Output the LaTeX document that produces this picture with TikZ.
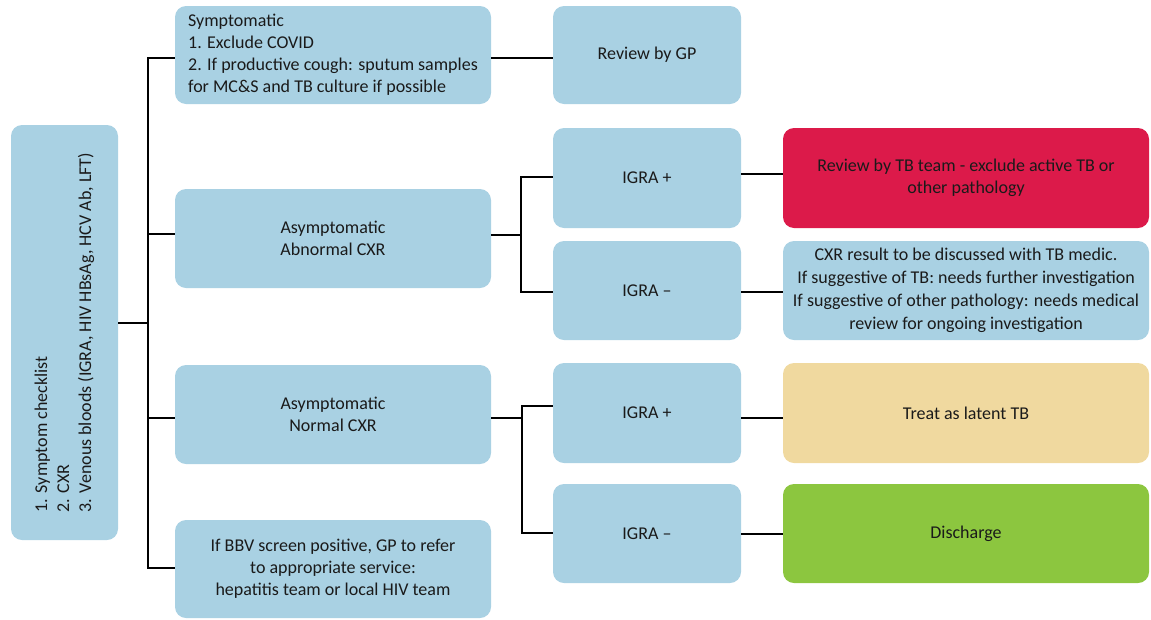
\documentclass[tikz,border=0pt]{standalone}
\usepackage{fontspec}
\setmainfont{Carlito}
\definecolor{boxblue}{HTML}{A9D1E3}
\definecolor{boxred}{HTML}{DC1A4A}
\definecolor{boxyel}{HTML}{F0D99F}
\definecolor{boxgrn}{HTML}{8CC63F}
\definecolor{txt}{HTML}{1A1A1A}
\begin{document}
\begin{tikzpicture}[x=1pt,y=-1pt,
  box/.style={rectangle, rounded corners=11pt, fill=boxblue, draw=none, text=txt,
    inner sep=2pt, align=center, font=\fontsize{18}{22}\selectfont},
  conn/.style={draw=black, line width=2.4pt}]
\useasboundingbox (0,0) rectangle (1151,619);
% left box
\node[box, rotate=90, minimum width=415pt, minimum height=107pt, align=left] (chk) at (64.5,332.5)
  {1. Symptom checklist\\2. CXR\\3. Venous bloods (IGRA, HIV HBsAg, HCV Ab, LFT)};
% second column
\node[box, minimum width=316pt, minimum height=98pt, align=left] (sym) at (333,55)
  {Symptomatic\\1. Exclude COVID\\2. If productive cough: sputum samples\\for MC\&S and TB culture if possible};
\node[box, minimum width=316pt, minimum height=99pt] (abn) at (333,238.5) {Asymptomatic\\Abnormal CXR};
\node[box, minimum width=316pt, minimum height=99pt] (nor) at (333,414.5) {Asymptomatic\\Normal CXR};
\node[box, minimum width=316pt, minimum height=98pt] (bbv) at (333,569)
  {If BBV screen positive, GP to refer\\to appropriate service:\\hepatitis team or local HIV team};
% third column
\node[box, minimum width=188pt, minimum height=98pt] (gp) at (647,55) {Review by GP};
\node[box, minimum width=188pt, minimum height=100pt] (ip1) at (647,178) {IGRA +};
\node[box, minimum width=188pt, minimum height=99pt] (im1) at (647,290.5) {IGRA –};
\node[box, minimum width=188pt, minimum height=100pt] (ip2) at (647,413) {IGRA +};
\node[box, minimum width=188pt, minimum height=99pt] (im2) at (647,533.5) {IGRA –};
% fourth column
\node[box, fill=boxred, minimum width=366pt, minimum height=100pt] (red) at (966,178)
  {Review by TB team - exclude active TB or\\other pathology};
\node[box, minimum width=366pt, minimum height=99pt, font=\fontsize{18}{23}\selectfont] (cxr) at (966,290.5)
  {CXR result to be discussed with TB medic.\\If suggestive of TB: needs further investigation\\If suggestive of other pathology: needs medical\\review for ongoing investigation};
\node[box, fill=boxyel, minimum width=366pt, minimum height=100pt] (yel) at (966,413) {Treat as latent TB};
\node[box, fill=boxgrn, minimum width=366pt, minimum height=99pt] (grn) at (966,533.5) {Discharge};
% connectors
\draw[conn] (chk.south |- 0,323) -- (148,323);
\draw[conn] (sym.west |- 0,58) -- (148,58) -- (148,568) -- (bbv.west |- 0,568);
\draw[conn] (148,234) -- (abn.west |- 0,234);
\draw[conn] (148,418) -- (nor.west |- 0,418);
\draw[conn] (sym.east |- 0,58) -- (gp.west |- 0,58);
\draw[conn] (abn.east |- 0,235) -- (521,235);
\draw[conn] (ip1.west |- 0,177) -- (521,177) -- (521,292) -- (im1.west |- 0,292);
\draw[conn] (ip1.east |- 0,174) -- (red.west |- 0,174);
\draw[conn] (im1.east |- 0,292) -- (cxr.west |- 0,292);
\draw[conn] (nor.east |- 0,418) -- (522,418);
\draw[conn] (ip2.west |- 0,406) -- (522,406) -- (522,533) -- (im2.west |- 0,533);
\draw[conn] (ip2.east |- 0,418) -- (yel.west |- 0,418);
\draw[conn] (im2.east |- 0,534) -- (grn.west |- 0,534);
\end{tikzpicture}
\end{document}
